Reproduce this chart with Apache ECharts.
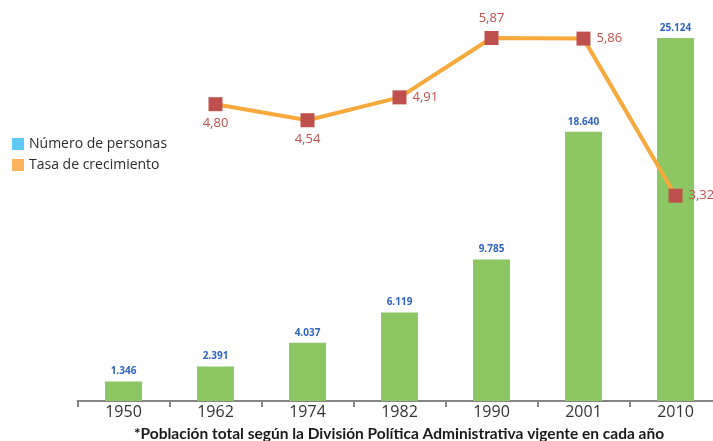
<!DOCTYPE html>
<html>
<head>
<meta charset="utf-8">
<script src="https://cdn.jsdelivr.net/npm/echarts@6/dist/echarts.min.js"></script>
<style>html,body{margin:0;padding:0;background:#fff;overflow:hidden;}#c{width:730px;height:441px;}</style>
</head>
<body>
<div id="c"></div>
<script>
const years = ['1950', '1962', '1974', '1982', '1990', '2001', '2010'];
const personas = [1346, 2391, 4037, 6119, 9785, 18640, 25124];
const crecimiento = [null, 4.80, 4.54, 4.91, 5.87, 5.86, 3.32];
const crecPos = [null, 'bottom', 'bottom', 'right', 'top', 'right', 'right'];
const seriesNames = ['Número de personas', 'Tasa de crecimiento'];
const footnote = '*Población total según la División Política Administrativa vigente en cada año';

const fmtThousands = v => String(v).replace(/\B(?=(\d{3})+(?!\d))/g, '.');
const fmtComma = v => v.toFixed(2).replace('.', ',');

const chart = echarts.init(document.getElementById('c'), null, {renderer: 'canvas'});
chart.setOption({
  animation: false,
  backgroundColor: '#ffffff',
  textStyle: {fontFamily: 'Open Sans'},
  legend: {
    orient: 'vertical', left: 12, top: 137, padding: 0, itemWidth: 12, itemHeight: 12, itemGap: 7,
    icon: 'rect',
    textStyle: {fontSize: 14, color: '#2b2b2b', fontFamily: 'Open Sans'},
    data: [
      {name: seriesNames[0], itemStyle: {color: '#5FC9F3'}},
      {name: seriesNames[1], itemStyle: {color: '#FDB45C'}}
    ]
  },
  grid: {left: 77.5, top: 38, bottom: 40, width: 644},
  xAxis: {
    type: 'category', data: years,
    axisLine: {lineStyle: {color: '#858585', width: 2}},
    axisTick: {show: true, length: 6, lineStyle: {color: '#858585', width: 2}},
    axisLabel: {fontSize: 16, color: '#333', margin: 3, fontFamily: 'Open Sans'}
  },
  yAxis: [
    {type: 'value', min: 0, max: 25124, show: false, splitLine: {show: false}},
    {type: 'value', min: 0, max: 5.87, show: false, splitLine: {show: false}}
  ],
  series: [
    {
      name: seriesNames[0], type: 'bar', data: personas, barWidth: 37,
      itemStyle: {color: '#8CC763'},
      label: {show: true, position: 'top', distance: 5, fontSize: 10, color: '#2F65BD', fontWeight: 'bold',
        fontFamily: 'Open Sans', formatter: p => fmtThousands(p.value)}
    },
    {
      name: seriesNames[1], type: 'line', yAxisIndex: 1,
      data: crecimiento.map((v, i) => v === null ? null : {value: v, label: {position: crecPos[i]}}),
      symbol: 'rect', symbolSize: 14,
      lineStyle: {color: '#F8A93C', width: 4},
      itemStyle: {color: '#C0504D'},
      label: {show: true, distance: 6, fontSize: 13, color: '#C0504D', fontFamily: 'Open Sans',
        formatter: p => fmtComma(p.value)}
    }
  ],
  graphic: [
    {type: 'text', x: 399, y: 434, style: {text: footnote, font: 'bold 15.5px Lato', fill: '#1a1a1a', align: 'center', verticalAlign: 'middle'}},
    {type: 'text', x: 561, y: -22, style: {text: 'Evolución de la ', font: 'bold 22px "Liberation Serif"', fill: '#111', align: 'right', verticalAlign: 'top'}},
    {type: 'text', x: 561, y: -22, style: {text: 'población', font: 'bold 22px "Liberation Serif"', fill: '#111', align: 'left', verticalAlign: 'top'}}
  ]
});
</script>
</body>
</html>
